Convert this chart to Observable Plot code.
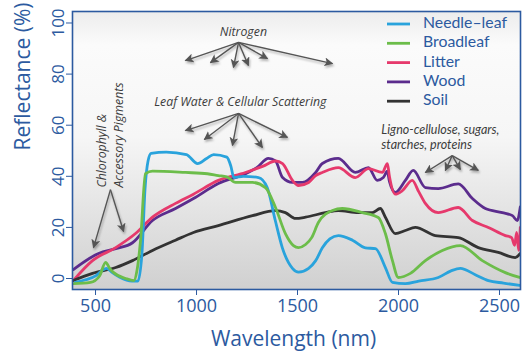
<!DOCTYPE html>
<html><head><meta charset="utf-8">
<script src="https://cdn.jsdelivr.net/npm/d3@7"></script>
<script src="https://cdn.jsdelivr.net/npm/@observablehq/plot@0.6"></script>
<style>body{margin:0;background:#fff}#chart svg{display:block}</style>
</head><body><div id="chart"></div>
<script>
// ---- data (wavelength nm, reflectance %) ----
const needleNm  = [400,450,500,530,555,580,620,680,710,730,745,760,775,850,950,1005,1050,1085,1150,1170,1185,1232,1307,1350,1390,1425,1475,1505,1555,1590,1623,1660,1702,1772,1836,1886,1935,1970,2034,2100,2197,2260,2306,2380,2445,2520,2600];
const needleVal = [-1.5,-0.5,1,3,4,2.5,0.5,-1,-1,10,35,46,49,49.5,48.5,45,47,48.5,47.5,44,39.5,40,39.5,35.6,22.7,12,4,2.5,4,7,12,15.5,16.8,15,12,11.7,4.3,-1.5,-2,-1,0.4,3,4,1.5,-0.8,-1.8,-2.7];

const broadNm  = [390,475,520,550,570,590,650,690,705,723,747,782,945,1054,1108,1150,1193,1277,1341,1391,1440,1480,1505,1540,1570,1604,1673,1722,1821,1900,1935,1970,1999,2059,2133,2217,2306,2415,2529,2600];
const broadVal = [-2,-1.5,1,6.3,4,2.3,0,-0.8,3,15,41,42,41.5,41,40.3,39.8,37.6,37.6,35.6,27.8,17.6,12.9,12.1,13.3,16,22,26.6,27.4,25.8,23.9,17.6,7,0.4,2,7,11,12.9,7,2.3,0.4];

const litterNm  = [390,485,600,698,782,896,985,1108,1242,1330,1391,1426,1475,1505,1555,1590,1623,1702,1786,1851,1920,1945,1955,1984,2019,2068,2100,2133,2197,2296,2366,2445,2529,2560,2575,2585,2595,2603];
const litterVal = [-0.8,7,12.1,17.6,24,29.4,33,38.4,41.5,44,46,45,38.4,36.4,37.6,40.3,41.5,43.4,39.5,43,41.5,45,40,33,34.4,38.4,34,29.4,25.8,27.8,22.7,20,16.8,16,13,18,11,20];

const woodNm  = [390,515,600,683,782,896,985,1108,1242,1300,1356,1391,1426,1475,1525,1590,1623,1702,1786,1851,1895,1925,1945,1955,1984,2034,2073,2133,2197,2296,2366,2430,2514,2564,2588,2603];
const woodVal = [3.5,9.8,11.7,14,22.7,27.4,31.3,37.2,41,43.5,47,46,39.5,37.6,37.6,41.5,45,47,41.5,43.4,38.4,39.5,42,38,33.7,38.4,42.3,35.6,35.2,37,31.3,27.4,25.8,24.6,22.7,28];

const soilNm  = [390,485,600,683,782,896,985,1108,1277,1391,1440,1490,1540,1638,1702,1801,1870,1910,1935,1984,2034,2083,2182,2296,2395,2494,2578,2603];
const soilVal = [-0.8,2,4.3,7,11,15,18,20.7,24.6,26.6,25.8,23.5,24,25.8,26.6,25.8,25.8,27.4,24,17.6,18.8,20,16.8,16,12.1,10.2,8.2,9.8];

const seriesNames  = ["Needle–leaf","Broadleaf","Litter","Wood","Soil"];
const seriesColors = ["#29a3dc","#6cbd4a","#e6396c","#5b2c8d","#333333"];

const xTicks = [500,1000,1500,2000,2500];
const yTicks = [0,20,40,60,80,100];

// annotations
const labelText = ["Nitrogen","Leaf Water & Cellular Scattering","Ligno-cellulose, sugars,\nstarches, proteins"];
const labelNm   = [1232,1217,1915];
const labelVal  = [96.3,68.9,55.4];
const labelAnchor = ["middle","middle","start"];
const chloroText = ["Chlorophyll &\nAccessory Pigments"];
const chloroNm   = [566];
const chloroVal  = [35.6];
const arrowFromNm  = [1208,1208,1208,1208,1208,1208, 1208,1208,1208,1208,1208, 2266,2266,2266,2266, 574,574];
const arrowFromVal = [92.4,92.4,92.4,92.4,92.4,92.4, 64.6,64.6,64.6,64.6,64.6, 48.1,48.1,48.1,48.1, 34.8,34.8];
const arrowToNm    = [945,1069,1183,1257,1351,1673, 945,1039,1178,1326,1450, 2133,2232,2306,2395, 490,639];
const arrowToVal   = [85.3,84.5,82.6,83.4,86.1,84.1, 57.9,54.4,52.1,51.3,55.2, 41.5,42.3,42.7,42.3, 12.1,18.4];

// ---- build ----
const blue = "#2c5aa0";
const series = [
  {nm:needleNm, val:needleVal}, {nm:broadNm, val:broadVal}, {nm:litterNm, val:litterVal},
  {nm:woodNm, val:woodVal}, {nm:soilNm, val:soilVal}
].map((s,i)=>({...s, name:seriesNames[i], color:seriesColors[i]}));
const drawOrder = [3,2,4,0,1];
const lineMarks = drawOrder.map(i => {
  const s = series[i];
  const rows = s.nm.map((x,j)=>({nm:x, val:s.val[j]}));
  return Plot.line(rows, {x:"nm", y:"val", stroke:s.color, strokeWidth:2.8, curve:"monotone-x", clip:true});
});
const labels = labelText.map((t,i)=>({t, nm:labelNm[i], val:labelVal[i], a:labelAnchor[i]}));
const chloro = chloroText.map((t,i)=>({t, nm:chloroNm[i], val:chloroVal[i]}));
const arrows = arrowFromNm.map((x,i)=>({x1:x, y1:arrowFromVal[i], x2:arrowToNm[i], y2:arrowToVal[i]}));

const annFont = {fontStyle:"italic", fill:"#3d3d3d", fontSize:12.3};
const plot = Plot.plot({
  width:523, height:355,
  marginLeft:72, marginRight:3, marginTop:11, marginBottom:66,
  style:{fontFamily:"'Open Sans', sans-serif", background:"transparent"},
  x:{domain:[386,2604]},
  y:{domain:[-4.3,104.5]},
  marks:[
    Plot.frame({fill:"url(#bgGrad)"}),
    ...lineMarks,
    Plot.link(arrows, {x1:"x1", y1:"y1", x2:"x2", y2:"y2", stroke:"#555", strokeWidth:1.4}),
    Plot.text(labels.filter(d=>d.a==="middle"), {x:"nm", y:"val", text:"t", textAnchor:"middle", ...annFont}),
    Plot.text(labels.filter(d=>d.a==="start"), {x:"nm", y:"val", text:"t", textAnchor:"start", ...annFont, fontSize:12.5, lineHeight:1.22, fontFamily:"Lato, sans-serif"}),
    Plot.text(chloro, {x:"nm", y:"val", text:"t", rotate:-90, textAnchor:"start", lineHeight:1.45, ...annFont}),
    Plot.frame({stroke:blue, strokeWidth:1.6}),
    Plot.axisX({ticks:xTicks, tickFormat:d=>String(d), tickSize:6, tickPadding:4, fontSize:18, color:blue, label:null}),
    Plot.axisY({ticks:yTicks, tickFormat:d=>String(d), tickSize:6, tickRotate:-90, fontSize:17, color:blue, label:null}),
    Plot.text(["Wavelength (nm)"], {text:d=>d, frameAnchor:"bottom", dy:56, dx:-3, fontSize:21, fill:blue}),
    Plot.text(["Reflectance (%)"], {text:d=>d, frameAnchor:"left", dx:-49, rotate:-90, fontSize:21, fill:blue})
  ]
});

const svg = d3.select(plot);
const defs = svg.insert("defs", ":first-child");
const g = defs.append("linearGradient").attr("id","bgGrad").attr("x1",0).attr("y1",0).attr("x2",0).attr("y2",1);
[[0,"#ececec"],[0.12,"#fbfbfb"],[0.45,"#f6f6f6"],[1,"#d0d0d0"]].forEach(([o,c])=>g.append("stop").attr("offset",o).attr("stop-color",c));
const f = defs.append("filter").attr("id","shadow").attr("x","-20%").attr("y","-20%").attr("width","140%").attr("height","140%");
f.append("feDropShadow").attr("dx",1).attr("dy",2).attr("stdDeviation",1.2).attr("flood-color","#000").attr("flood-opacity",0.3);
defs.append("marker").attr("id","ah").attr("viewBox","0 0 10 10").attr("refX",9).attr("refY",5)
  .attr("markerWidth",9).attr("markerHeight",9).attr("markerUnits","userSpaceOnUse").attr("orient","auto")
  .append("path").attr("d","M0,0L10,5L0,10L2.5,5Z").attr("fill","#555");
svg.selectAll('g[aria-label="link"]').attr("filter","url(#shadow)").selectAll("path").attr("marker-end","url(#ah)");

// legend (inside the frame, top right)
const lg = svg.append("g").attr("font-size",15.8).attr("fill",blue).attr("text-anchor","start").attr("font-family","Lato, sans-serif");
seriesNames.forEach((n,i)=>{
  const y = 24 + i*19.3;
  lg.append("line").attr("x1",387).attr("x2",410).attr("y1",y).attr("y2",y).attr("stroke",seriesColors[i]).attr("stroke-width",2.8);
  lg.append("text").attr("x",423).attr("y",y-1.5).attr("dy","0.35em").attr("text-anchor","start").text(n);
});
document.getElementById("chart").appendChild(plot);
</script></body></html>
